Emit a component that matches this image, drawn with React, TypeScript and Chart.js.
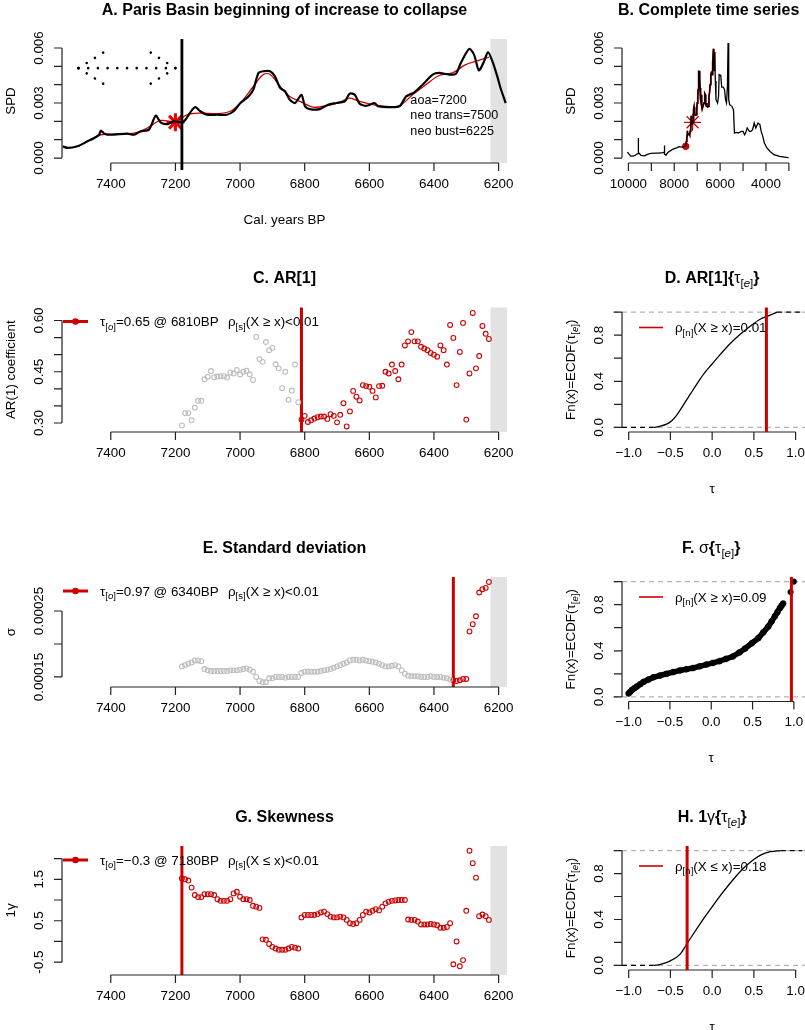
import React, { useEffect, useRef } from "react";
import { Chart, registerables } from "chart.js";
Chart.register(...registerables);

type Seg = { t: string; sub?: boolean; it?: boolean; b?: boolean };

const FONT = '"Liberation Sans", Arial, "DejaVu Sans", sans-serif';
const RED = "#cd0000";
const BRIGHT_RED = "#ee0000";
const GRAY_PT = "#bdbdbd";
const BAND = "#e2e2e2";
const AXIS = "#222222";
const TICK_PX = 13.4;
const TITLE_PX = 16;
const LAB_PX = 13.4;

// ---------------- Panel A: Paris Basin SPD (units of 1e-3) ----------------
const paBlackYears = [7549, 7533, 7503, 7472, 7451, 7436, 7431, 7420, 7400, 7349, 7328, 7308, 7282, 7261, 7246, 7225, 7205, 7179, 7169, 7148, 7138, 7123, 7102, 7071, 7041, 7020, 6999, 6974, 6959, 6943, 6928, 6907, 6892, 6876, 6861, 6846, 6830, 6810, 6799, 6784, 6753, 6728, 6702, 6676, 6661, 6645, 6630, 6609, 6584, 6573, 6548, 6507, 6486, 6461, 6435, 6404, 6384, 6353, 6332, 6317, 6291, 6276, 6261, 6245, 6233, 6219, 6204, 6194, 6178];
const paBlackSpd = [0.64, 0.55, 0.64, 0.91, 1.09, 1.27, 1.49, 1.33, 1.27, 1.33, 1.27, 1.45, 1.55, 2.31, 1.95, 1.85, 2.0, 1.95, 2.09, 2.64, 2.78, 2.55, 2.36, 2.36, 2.36, 2.55, 3.0, 3.36, 3.73, 4.64, 4.73, 4.73, 4.45, 3.82, 3.64, 3.18, 3.0, 3.45, 2.82, 2.67, 2.67, 2.91, 3.0, 3.09, 3.51, 3.45, 2.96, 2.85, 3.0, 2.82, 2.78, 2.82, 3.36, 3.58, 4.0, 4.55, 4.64, 4.55, 4.6, 5.18, 5.95, 5.64, 4.78, 5.27, 5.78, 5.27, 4.45, 3.82, 3.0];
const paRedYears = [7500, 7462, 7431, 7380, 7328, 7287, 7246, 7200, 7164, 7123, 7071, 7030, 6999, 6959, 6928, 6907, 6876, 6846, 6815, 6774, 6733, 6692, 6661, 6630, 6589, 6548, 6507, 6466, 6425, 6384, 6343, 6302, 6261, 6230];
const paRedSpd = [0.64, 1.0, 1.27, 1.31, 1.36, 1.64, 2.05, 1.97, 2.36, 2.45, 2.42, 2.55, 3.0, 3.9, 4.55, 4.55, 3.9, 3.36, 3.09, 2.78, 2.85, 3.04, 3.27, 3.09, 2.91, 2.82, 2.85, 3.45, 4.0, 4.5, 4.64, 5.09, 5.33, 5.5];
const aoaYear = 7200;
const aoaSpd = 1.95;
const neoTrans = 7500;
const neoBust = 6225;
const onsetLineYear = 7180;
const arrowSpd = 4.9;
const annotLines = ["aoa=7200", "neo trans=7500", "neo bust=6225"];
const annotYear = 6473;
const annotSpd = [3.22, 2.35, 1.53];

// ---------------- Panel B: complete series (units of 1e-3) ----------------
const bEarlyYears = [10040, 10000, 9900, 9800, 9700, 9620, 9580, 9570, 9560, 9450, 9300, 9170, 9030, 8800, 8680, 8500, 8440, 8430, 8420, 8360, 8280, 8190, 8050, 7900, 7800, 7640, 7560];
const bEarlySpd = [0.33, 0.25, 0.1, 0.1, 0.15, 0.22, 0.24, 1.09, 0.3, 0.15, 0.12, 0.2, 0.26, 0.27, 0.27, 0.3, 0.32, 0.69, 0.2, 0.16, 0.3, 0.38, 0.49, 0.55, 0.62, 0.6, 0.64];
const bLateYears = [6208, 6180, 6111, 6069, 6041, 5972, 5930, 5861, 5806, 5764, 5722, 5680, 5653, 5625, 5583, 5486, 5417, 5375, 5278, 5208, 5069, 5000, 4930, 4889, 4819, 4722, 4653, 4583, 4514, 4444, 4347, 4264, 4208, 4139, 4069, 3958, 3819, 3653, 3403, 3125, 3014];
const bLateSpd = [4.2, 3.18, 3.0, 3.36, 4.55, 4.5, 3.87, 3.87, 3.73, 3.18, 3.0, 3.9, 6.27, 3.18, 2.91, 2.82, 2.64, 1.36, 1.4, 1.36, 1.45, 1.45, 1.27, 1.36, 1.64, 1.45, 1.45, 1.55, 1.91, 1.64, 1.91, 1.82, 1.45, 1.18, 0.82, 0.55, 0.36, 0.18, 0.09, 0.04, 0.02];

// ---------------- Rolling-window indicators ----------------
const windowYears = [
  7180, 7170, 7160, 7150, 7140, 7130, 7120, 7110, 7100, 7090,
  7080, 7070, 7060, 7050, 7040, 7030, 7020, 7010, 7000, 6990,
  6980, 6970, 6960, 6950, 6940, 6930, 6920, 6910, 6900, 6890,
  6880, 6870, 6860, 6850, 6840, 6830, 6820, 6810, 6800, 6790,
  6780, 6770, 6760, 6750, 6740, 6730, 6720, 6710, 6700, 6690,
  6680, 6670, 6660, 6650, 6640, 6630, 6620, 6610, 6600, 6590,
  6580, 6570, 6560, 6550, 6540, 6530, 6520, 6510, 6500, 6490,
  6480, 6470, 6460, 6450, 6440, 6430, 6420, 6410, 6400, 6390,
  6380, 6370, 6360, 6350, 6340, 6330, 6320, 6310, 6300, 6290,
  6280, 6270, 6260, 6250, 6240, 6230,
];
const arValues = [
  0.293, 0.329, 0.329, 0.308, 0.345, 0.365, 0.365, 0.428, 0.435, 0.452,
  0.434, 0.436, 0.437, 0.437, 0.433, 0.448, 0.445, 0.455, 0.442, 0.45,
  0.453, 0.442, 0.426, 0.552, 0.487, 0.479, 0.537, 0.513, 0.52, 0.472,
  0.46, 0.402, 0.45, 0.368, 0.395, 0.471, 0.361, 0.31, 0.321, 0.303,
  0.308, 0.313, 0.317, 0.319, 0.319, 0.312, 0.326, 0.321, 0.302, 0.324,
  0.358, 0.29, 0.334, 0.394, 0.377, 0.366, 0.411, 0.408, 0.406, 0.394,
  0.375, 0.408, 0.409, 0.45, 0.445, 0.471, 0.452, 0.428, 0.471, 0.527,
  0.539, 0.566, 0.539, 0.539, 0.523, 0.518, 0.513, 0.505, 0.5, 0.494,
  0.527, 0.513, 0.471, 0.587, 0.549, 0.411, 0.508, 0.593, 0.31, 0.445,
  0.622, 0.46, 0.496, 0.584, 0.561, 0.546,
];
// standard deviation in units of 1e-4
const sdValues = [
  1.66, 1.68, 1.7, 1.72, 1.75, 1.75, 1.74, 1.62, 1.6, 1.59,
  1.59, 1.59, 1.59, 1.59, 1.59, 1.6, 1.6, 1.6, 1.61, 1.62,
  1.63, 1.61, 1.58, 1.5, 1.44, 1.42, 1.42, 1.48, 1.48, 1.5,
  1.5, 1.5, 1.49, 1.5, 1.5, 1.5, 1.5, 1.56, 1.58, 1.58,
  1.58, 1.58, 1.58, 1.59, 1.6, 1.61, 1.62, 1.64, 1.66, 1.68,
  1.7, 1.72, 1.75, 1.76, 1.76, 1.75, 1.76, 1.75, 1.74, 1.73,
  1.72, 1.7, 1.68, 1.66, 1.66, 1.67, 1.68, 1.66, 1.6, 1.55,
  1.52, 1.51, 1.51, 1.51, 1.5, 1.5, 1.5, 1.51, 1.5, 1.5,
  1.5, 1.49, 1.48, 1.46, 1.45, 1.44, 1.45, 1.47, 1.47, 2.19,
  2.3, 2.42, 2.78, 2.83, 2.85, 2.94,
];
const skValues = [
  1.52, 1.5, 1.47, 1.3, 1.12, 1.07, 1.07, 1.14, 1.14, 1.14,
  1.12, 1.02, 0.98, 0.98, 0.98, 1.02, 1.16, 1.2, 1.08, 1.02,
  1.02, 1.0, 0.86, 0.84, 0.81, 0.05, 0.04, -0.06, -0.13, -0.17,
  -0.2, -0.2, -0.2, -0.17, -0.13, -0.15, -0.17, 0.58, 0.64, 0.64,
  0.64, 0.64, 0.66, 0.7, 0.72, 0.66, 0.6, 0.58, 0.58, 0.6,
  0.58, 0.52, 0.44, 0.42, 0.44, 0.52, 0.64, 0.72, 0.7, 0.74,
  0.78, 0.75, 0.84, 0.92, 0.96, 0.98, 0.99, 1.0, 1.0, 1.0,
  0.53, 0.52, 0.52, 0.48, 0.41, 0.41, 0.41, 0.42, 0.41, 0.39,
  0.33, 0.33, 0.35, 0.44, -0.55, 0.0, -0.6, -0.45, 0.74, 2.19,
  1.89, 1.54, 0.61, 0.65, 0.61, 0.52,
];
const arOnset = 6810;
const sdOnset = 6340;
const skOnset = 7180;

// ---------------- ECDF panels ----------------
const arTauObs = 0.65;
const sdTauObs = 0.97;
const skTauObs = -0.3;
const dTau = [-0.7, -0.62, -0.54, -0.48, -0.42, -0.34, -0.26, -0.18, -0.1, 0.0, 0.1, 0.22, 0.34, 0.46, 0.58, 0.68, 0.78];
const dFn = [0.0, 0.01, 0.03, 0.06, 0.11, 0.2, 0.29, 0.38, 0.465, 0.55, 0.635, 0.73, 0.81, 0.88, 0.94, 0.97, 1.0];
const fTau = [-1.0, -0.98, -0.96, -0.93, -0.9, -0.86, -0.82, -0.76, -0.7, -0.62, -0.54, -0.46, -0.38, -0.3, -0.22, -0.14, -0.06, 0.02, 0.1, 0.18, 0.26, 0.34, 0.41, 0.49, 0.57, 0.63, 0.69, 0.73, 0.77, 0.8, 0.83, 0.85, 0.87];
const fFn = [0.03, 0.045, 0.06, 0.075, 0.09, 0.11, 0.13, 0.15, 0.17, 0.185, 0.2, 0.215, 0.23, 0.24, 0.25, 0.265, 0.28, 0.295, 0.31, 0.33, 0.35, 0.385, 0.42, 0.465, 0.51, 0.56, 0.61, 0.655, 0.7, 0.735, 0.77, 0.79, 0.81];
const fTopTau = [0.96, 1.0];
const fTopFn = [0.91, 1.0];
const hTau = [-0.7, -0.62, -0.5, -0.38, -0.31, -0.22, -0.1, 0.0, 0.1, 0.22, 0.34, 0.46, 0.58, 0.7, 0.82];
const hFn = [0.0, 0.01, 0.04, 0.1, 0.18, 0.28, 0.41, 0.51, 0.61, 0.72, 0.82, 0.9, 0.96, 0.99, 1.0];

// ---------------- tick labels ----------------
const yearTicks = [7400, 7200, 7000, 6800, 6600, 6400, 6200];
const yearTickLabels = ["7400", "7200", "7000", "6800", "6600", "6400", "6200"];
const bYearTicks = [10000, 9000, 8000, 7000, 6000, 5000, 4000, 3000];
const bYearTickLabels = ["10000", "", "8000", "", "6000", "", "4000", ""];
const spdTicks = [0, 1, 2, 3, 4, 5, 6];
const spdTickLabels = ["0.000", "", "", "0.003", "", "", "0.006"];
const arTicks = [0.3, 0.35, 0.4, 0.45, 0.5, 0.55, 0.6];
const arTickLabels = ["0.30", "", "", "0.45", "", "", "0.60"];
const sdTicks = [1.5, 2.0, 2.5];
const sdTickLabels = ["0.00015", "", "0.00025"];
const skTicks = [-0.5, 0, 0.5, 1.0, 1.5, 2.0];
const skTickLabels = ["-0.5", "", "0.5", "", "1.5", ""];
const tauTicks = [-1, -0.5, 0, 0.5, 1];
const tauTickLabels = ["\u22121.0", "\u22120.5", "0.0", "0.5", "1.0"];
const fnTicks = [0, 0.2, 0.4, 0.6, 0.8, 1.0];
const fnTickLabels = ["0.0", "", "0.4", "", "0.8", ""];

// ---------------- text helpers ----------------
function fontOf(s: Seg, size: number) {
  const sz = s.sub ? size * 0.72 : size;
  return `${s.it ? "italic " : ""}${s.b ? "bold " : ""}${sz}px ${FONT}`;
}
function richWidth(ctx: CanvasRenderingContext2D, segs: Seg[], size: number) {
  let w = 0;
  for (const s of segs) {
    ctx.font = fontOf(s, size);
    w += ctx.measureText(s.t).width;
  }
  return w;
}
function drawRich(ctx: CanvasRenderingContext2D, segs: Seg[], x: number, y: number, size: number, align = "left") {
  ctx.textBaseline = "alphabetic";
  ctx.textAlign = "left";
  let cx = align === "center" ? x - richWidth(ctx, segs, size) / 2 : x;
  const base = y + size * 0.36;
  for (const s of segs) {
    ctx.font = fontOf(s, size);
    ctx.fillText(s.t, cx, s.sub ? base + size * 0.25 : base);
    cx += ctx.measureText(s.t).width;
  }
}
function drawRichRot(ctx: CanvasRenderingContext2D, segs: Seg[], x: number, y: number, size: number) {
  ctx.save();
  ctx.translate(x, y);
  ctx.rotate(-Math.PI / 2);
  drawRich(ctx, segs, 0, 0, size, "center");
  ctx.restore();
}
const plain = (t: string): Seg[] => [{ t }];
const bold = (t: string): Seg[] => [{ t, b: true }];
const tauE: Seg[] = [{ t: "\u03c4" }, { t: "[", sub: true }, { t: "e", sub: true, it: true }, { t: "]", sub: true }];

// ---------------- panel machinery ----------------
type Area = { l: number; t: number; r: number; b: number };
type PanelSpec = {
  key: string;
  left: number; top: number; w: number; h: number;
  area: Area;
  xr: [number, number]; xRev: boolean; yr: [number, number];
  xTicks: number[]; xLabels: string[]; yTicks: number[]; yLabels: string[];
  title: Seg[]; xlab?: Seg[]; ylab?: Seg[];
  datasets: any[];
  under?: (c: any) => void;
  over?: (c: any) => void;
};

function drawFrame(c: any, s: PanelSpec) {
  const { ctx, chartArea: a } = c;
  const sx = c.scales.x, sy = c.scales.y;
  ctx.save();
  ctx.setLineDash([]);
  ctx.strokeStyle = AXIS;
  ctx.lineWidth = 1.2;
  ctx.fillStyle = "#000";
  const xp = s.xTicks.map((v) => sx.getPixelForValue(v));
  const yb = a.bottom;
  ctx.beginPath();
  ctx.moveTo(Math.min(...xp), yb);
  ctx.lineTo(Math.max(...xp), yb);
  xp.forEach((p) => { ctx.moveTo(p, yb); ctx.lineTo(p, yb + 8); });
  ctx.stroke();
  xp.forEach((p, i) => { if (s.xLabels[i]) drawRich(ctx, plain(s.xLabels[i]), p, yb + 20, TICK_PX, "center"); });
  const yp = s.yTicks.map((v) => sy.getPixelForValue(v));
  const xl = a.left;
  ctx.beginPath();
  ctx.moveTo(xl, Math.min(...yp));
  ctx.lineTo(xl, Math.max(...yp));
  yp.forEach((p) => { ctx.moveTo(xl, p); ctx.lineTo(xl - 8, p); });
  ctx.stroke();
  yp.forEach((p, i) => { if (s.yLabels[i]) drawRichRot(ctx, plain(s.yLabels[i]), xl - 24, p, TICK_PX); });
  drawRich(ctx, s.title, (a.left + a.right) / 2, a.top - 30, TITLE_PX, "center");
  if (s.xlab) drawRich(ctx, s.xlab, (a.left + a.right) / 2, a.bottom + 56, LAB_PX, "center");
  if (s.ylab) drawRichRot(ctx, s.ylab, a.left - 52, (a.top + a.bottom) / 2, LAB_PX);
  ctx.restore();
}

function PanelCanvas({ spec }: { spec: PanelSpec }) {
  const ref = useRef<HTMLCanvasElement>(null);
  useEffect(() => {
    const s = spec;
    const chart = new Chart(ref.current as HTMLCanvasElement, {
      type: "scatter",
      data: { datasets: s.datasets },
      options: {
        animation: false,
        responsive: false,
        devicePixelRatio: 1,
        events: [],
        layout: { padding: { left: s.area.l, top: s.area.t, right: s.w - s.area.r, bottom: s.h - s.area.b } },
        scales: {
          x: { type: "linear", display: false, min: s.xr[0], max: s.xr[1], reverse: s.xRev },
          y: { type: "linear", display: false, min: s.yr[0], max: s.yr[1] },
        },
        plugins: { legend: { display: false }, tooltip: { enabled: false }, title: { display: false } },
      } as any,
      plugins: [
        {
          id: "rbase",
          beforeDatasetsDraw: (c: any) => { c.ctx.save(); s.under && s.under(c); c.ctx.restore(); },
          afterDatasetsDraw: (c: any) => { drawFrame(c, s); c.ctx.save(); s.over && s.over(c); c.ctx.restore(); },
        },
      ],
    });
    return () => chart.destroy();
  }, [spec]);
  return (
    <canvas
      ref={ref}
      width={spec.w}
      height={spec.h}
      style={{ position: "absolute", left: spec.left, top: spec.top, width: spec.w, height: spec.h }}
    />
  );
}

// ---------------- drawing helpers ----------------
const pts = (xs: number[], ys: number[]) => xs.map((x, i) => ({ x, y: ys[i] }));
function band(c: any, from: number) {
  const { ctx, chartArea: a } = c;
  const x0 = c.scales.x.getPixelForValue(from);
  ctx.fillStyle = BAND;
  ctx.fillRect(x0, a.top, a.right - x0, a.bottom - a.top);
}
function vline(c: any, xv: number, color: string, width: number, extra = 0) {
  const { ctx, chartArea: a } = c;
  const x = c.scales.x.getPixelForValue(xv);
  ctx.strokeStyle = color;
  ctx.lineWidth = width;
  ctx.setLineDash([]);
  ctx.beginPath();
  ctx.moveTo(x, a.top);
  ctx.lineTo(x, a.bottom + extra);
  ctx.stroke();
}
function hDashed(c: any, yv: number) {
  const { ctx, chartArea: a } = c;
  const y = c.scales.y.getPixelForValue(yv);
  ctx.strokeStyle = "#b3b3b3";
  ctx.lineWidth = 1.2;
  ctx.setLineDash([5, 4]);
  ctx.beginPath();
  ctx.moveTo(a.left - 9, y);
  ctx.lineTo(c.width, y);
  ctx.stroke();
  ctx.setLineDash([]);
}
function pointLegend(c: any, s1: Seg[], s2: Seg[]) {
  const { ctx, chartArea: a } = c;
  const y = a.top + 14;
  ctx.strokeStyle = RED;
  ctx.lineWidth = 3;
  ctx.beginPath();
  ctx.moveTo(63, y);
  ctx.lineTo(88, y);
  ctx.stroke();
  ctx.fillStyle = RED;
  ctx.beginPath();
  ctx.arc(75.5, y, 3.3, 0, Math.PI * 2);
  ctx.fill();
  ctx.fillStyle = "#000";
  drawRich(ctx, s1, 100, y, LAB_PX);
  drawRich(ctx, s2, 228, y, LAB_PX);
}
function lineLegend(c: any, segs: Seg[]) {
  const { ctx, chartArea: a } = c;
  const y = a.top + 20;
  ctx.strokeStyle = RED;
  ctx.lineWidth = 1.6;
  ctx.beginPath();
  ctx.moveTo(a.left + 17, y);
  ctx.lineTo(a.left + 41, y);
  ctx.stroke();
  ctx.fillStyle = "#000";
  drawRich(ctx, segs, a.left + 53, y, LAB_PX);
}
function dottedArrow(c: any, x1v: number, x2v: number, yv: number) {
  const { ctx } = c;
  const xa = c.scales.x.getPixelForValue(x1v);
  const xb = c.scales.x.getPixelForValue(x2v);
  const y = c.scales.y.getPixelForValue(yv);
  const l = Math.min(xa, xb), r = Math.max(xa, xb);
  const hx = 25.5, hy = 16;
  ctx.strokeStyle = "#000";
  ctx.lineWidth = 2.6;
  ctx.lineCap = "round";
  ctx.setLineDash([0.01, 9.7]);
  const seg = (x0: number, y0: number, x1: number, y1: number) => {
    ctx.beginPath();
    ctx.moveTo(x0, y0);
    ctx.lineTo(x1, y1);
    ctx.stroke();
  };
  seg(l, y, r, y);
  seg(l, y, l + hx, y - hy);
  seg(l, y, l + hx, y + hy);
  seg(r, y, r - hx, y - hy);
  seg(r, y, r - hx, y + hy);
  ctx.setLineDash([]);
}
const lineDs = (data: any[], color: string, width: number, smooth = false, dash: number[] = []) => ({
  data, showLine: true, borderColor: color, borderWidth: width, pointRadius: 0,
  tension: smooth ? 0.4 : 0, cubicInterpolationMode: smooth ? "monotone" : "default",
  borderDash: dash, fill: false,
});
const curveDs = (data: any[], color: string, width: number, tension: number) => ({
  data, showLine: true, borderColor: color, borderWidth: width, pointRadius: 0, tension, fill: false,
});
const openPts = (data: any[], color: string) => ({
  data, showLine: false, pointStyle: "circle", pointRadius: 2.4, pointBorderWidth: 1.1,
  pointBorderColor: color, pointBackgroundColor: "rgba(0,0,0,0)", borderColor: color, backgroundColor: "rgba(0,0,0,0)",
});

const YEAR_X: [number, number] = [6174, 7551];
const TAU_X: [number, number] = [-1.08, 1.08];
const FN_Y: [number, number] = [-0.04, 1.04];

function splitWindow(values: number[], onset: number) {
  const before: any[] = [];
  const after: any[] = [];
  windowYears.forEach((yr, i) => {
    if (yr > onset) before.push({ x: yr, y: values[i] });
    else after.push({ x: yr, y: values[i] });
  });
  return { before, after };
}

const sigSub = (ch: string): Seg[] => [{ t: "\u03c4" }, { t: "[", sub: true }, { t: ch, sub: true, it: true }, { t: "]", sub: true }];
const rhoSub = (ch: string): Seg[] => [{ t: "\u03c1" }, { t: `[${ch}]`, sub: true }];
const ecdfYlab: Seg[] = [{ t: "Fn(x)=ECDF(" }, ...tauE, { t: ")" }];

function buildSpecs(): PanelSpec[] {
  const ar = splitWindow(arValues, arOnset);
  const sd = splitWindow(sdValues, sdOnset);
  const sk = splitWindow(skValues, skOnset);
  const bMid = paBlackYears.map((y, i) => ({ x: y, y: paBlackSpd[i] })).filter((p) => p.x <= 7510 && p.x >= neoBust);
  const bAll = [...pts(bEarlyYears, bEarlySpd), ...bMid, ...pts(bLateYears, bLateSpd)];
  const bRed = paBlackYears.map((y, i) => ({ x: y, y: paBlackSpd[i] })).filter((p) => p.x <= 7505 && p.x >= neoBust);

  const A: PanelSpec = {
    key: "A", left: 0, top: 0, w: 560, h: 268,
    area: { l: 62, t: 39, r: 507, b: 163 },
    xr: YEAR_X, xRev: true, yr: [-0.27, 6.49],
    xTicks: yearTicks, xLabels: yearTickLabels, yTicks: spdTicks, yLabels: spdTickLabels,
    title: bold("A. Paris Basin beginning of increase to collapse"),
    xlab: plain("Cal. years BP"), ylab: plain("SPD"),
    datasets: [
      curveDs(pts(paBlackYears, paBlackSpd), "#000", 2.2, 0.25),
      curveDs(pts(paRedYears, paRedSpd), RED, 1.3, 0.35),
      { data: [{ x: aoaYear, y: aoaSpd }], pointStyle: "star", pointRadius: 9, pointBorderWidth: 3, pointBorderColor: BRIGHT_RED, borderColor: BRIGHT_RED, showLine: false },
    ],
    under: (c) => band(c, neoBust),
    over: (c) => {
      vline(c, onsetLineYear, "#000", 2.8, 7);
      dottedArrow(c, neoTrans, aoaYear, arrowSpd);
      const { ctx } = c;
      ctx.fillStyle = "#000";
      annotLines.forEach((t, i) => drawRich(ctx, plain(t), c.scales.x.getPixelForValue(annotYear), c.scales.y.getPixelForValue(annotSpd[i]), 12.6));
    },
  };
  const B: PanelSpec = {
    key: "B", left: 560, top: 0, w: 245, h: 268,
    area: { l: 62, t: 39, r: 243, b: 163 },
    xr: [2720, 10280], xRev: true, yr: [-0.27, 6.49],
    xTicks: bYearTicks, xLabels: bYearTickLabels, yTicks: spdTicks, yLabels: spdTickLabels,
    title: bold("B. Complete time series"), ylab: plain("SPD"),
    datasets: [
      lineDs(bAll, "#000", 1.3),
      lineDs(bRed, RED, 1.8),
      { data: [{ x: neoTrans, y: paRedSpd[0] }], pointStyle: "circle", pointRadius: 3.3, pointBackgroundColor: RED, pointBorderColor: RED, showLine: false },
      { data: [{ x: aoaYear, y: aoaSpd }], pointStyle: "star", pointRadius: 8.5, pointBorderWidth: 1.2, pointBorderColor: RED, borderColor: RED, showLine: false },
    ],
  };
  const C: PanelSpec = {
    key: "C", left: 0, top: 268, w: 560, h: 270,
    area: { l: 62, t: 39.5, r: 507, b: 164 },
    xr: YEAR_X, xRev: true, yr: [0.2737, 0.638],
    xTicks: yearTicks, xLabels: yearTickLabels, yTicks: arTicks, yLabels: arTickLabels,
    title: bold("C. AR[1]"), ylab: plain("AR(1) coefficient"),
    datasets: [openPts(ar.before, GRAY_PT), openPts(ar.after, RED)],
    under: (c) => { band(c, neoBust); vline(c, arOnset, RED, 3); },
    over: (c) => pointLegend(c, [...sigSub("o"), { t: "=0.65 @ 6810BP" }], [...rhoSub("s"), { t: "(X \u2265 x)<0.01" }]),
  };
  const D: PanelSpec = {
    key: "D", left: 560, top: 268, w: 245, h: 270,
    area: { l: 62, t: 39.5, r: 242.3, b: 164 },
    xr: TAU_X, xRev: false, yr: FN_Y,
    xTicks: tauTicks, xLabels: tauTickLabels, yTicks: fnTicks, yLabels: fnTickLabels,
    title: [{ t: "D. AR[1]{", b: true }, ...tauE, { t: "}", b: true }],
    xlab: plain("\u03c4"), ylab: ecdfYlab,
    datasets: [
      lineDs([{ x: -1.08, y: 0 }, { x: dTau[0], y: 0 }], "#000", 1.3, false, [5, 4]),
      lineDs([{ x: dTau[dTau.length - 1], y: 1 }, { x: 1.08, y: 1 }], "#000", 1.3, false, [5, 4]),
      lineDs(pts(dTau, dFn), "#000", 1.3, true),
    ],
    under: (c) => { hDashed(c, 0); hDashed(c, 1); },
    over: (c) => { vline(c, arTauObs, RED, 3); lineLegend(c, [...rhoSub("n"), { t: "(X \u2265 x)=0.01" }]); },
  };
  const E: PanelSpec = {
    key: "E", left: 0, top: 538, w: 560, h: 268,
    area: { l: 62, t: 39, r: 507, b: 149 },
    xr: YEAR_X, xRev: true, yr: [1.348, 3.015],
    xTicks: yearTicks, xLabels: yearTickLabels, yTicks: sdTicks, yLabels: sdTickLabels,
    title: bold("E. Standard deviation"), ylab: plain("\u03c3"),
    datasets: [openPts(sd.before, GRAY_PT), openPts(sd.after, RED)],
    under: (c) => { band(c, neoBust); vline(c, sdOnset, RED, 3); },
    over: (c) => pointLegend(c, [...sigSub("o"), { t: "=0.97 @ 6340BP" }], [...rhoSub("s"), { t: "(X \u2265 x)<0.01" }]),
  };
  const F: PanelSpec = {
    key: "F", left: 560, top: 538, w: 245, h: 268,
    area: { l: 62, t: 39, r: 242.3, b: 163.5 },
    xr: TAU_X, xRev: false, yr: FN_Y,
    xTicks: tauTicks, xLabels: tauTickLabels, yTicks: fnTicks, yLabels: fnTickLabels,
    title: [{ t: "F. ", b: true }, { t: "\u03c3" }, { t: "{", b: true }, ...tauE, { t: "}", b: true }],
    xlab: plain("\u03c4"), ylab: ecdfYlab,
    datasets: [
      {
        data: pts(fTau, fFn), showLine: true, borderColor: "#000", borderWidth: 5.6, tension: 0,
        pointRadius: 3, pointBorderWidth: 0.5, pointBackgroundColor: "#000", pointBorderColor: "#000", fill: false,
      },
      {
        data: pts(fTopTau, fTopFn), showLine: false, pointRadius: 2.8, pointBorderWidth: 0.5,
        pointBackgroundColor: "#000", pointBorderColor: "#000",
      },
    ],
    under: (c) => { hDashed(c, 0); hDashed(c, 1); },
    over: (c) => { vline(c, sdTauObs, RED, 3); lineLegend(c, [...rhoSub("n"), { t: "(X \u2265 x)=0.09" }]); },
  };
  const G: PanelSpec = {
    key: "G", left: 0, top: 806, w: 560, h: 224,
    area: { l: 62, t: 40, r: 507, b: 169 },
    xr: YEAR_X, xRev: true, yr: [-0.81, 2.304],
    xTicks: yearTicks, xLabels: yearTickLabels, yTicks: skTicks, yLabels: skTickLabels,
    title: bold("G. Skewness"), ylab: [{ t: "1" }, { t: "\u03b3" }],
    datasets: [openPts(sk.before, GRAY_PT), openPts(sk.after, RED)],
    under: (c) => { band(c, neoBust); vline(c, skOnset, RED, 3); },
    over: (c) => pointLegend(c, [...sigSub("o"), { t: "=\u22120.3 @ 7180BP" }], [...rhoSub("s"), { t: "(X \u2264 x)<0.01" }]),
  };
  const H: PanelSpec = {
    key: "H", left: 560, top: 806, w: 245, h: 224,
    area: { l: 62, t: 40, r: 242.3, b: 164 },
    xr: TAU_X, xRev: false, yr: FN_Y,
    xTicks: tauTicks, xLabels: tauTickLabels, yTicks: fnTicks, yLabels: fnTickLabels,
    title: [{ t: "H. 1", b: true }, { t: "\u03b3" }, { t: "{", b: true }, ...tauE, { t: "}", b: true }],
    xlab: plain("\u03c4"), ylab: ecdfYlab,
    datasets: [
      lineDs([{ x: -1.08, y: 0 }, { x: hTau[0], y: 0 }], "#000", 1.3, false, [5, 4]),
      lineDs([{ x: hTau[hTau.length - 1], y: 1 }, { x: 1.08, y: 1 }], "#000", 1.3, false, [5, 4]),
      lineDs(pts(hTau, hFn), "#000", 1.3, true),
    ],
    under: (c) => { hDashed(c, 0); hDashed(c, 1); },
    over: (c) => { vline(c, skTauObs, RED, 3); lineLegend(c, [...rhoSub("n"), { t: "(X \u2264 x)=0.18" }]); },
  };
  return [A, B, C, D, E, F, G, H];
}

const SPECS = buildSpecs();

export default function App() {
  return (
    <div style={{ position: "absolute", left: 0, top: 0, width: 805, height: 1030, background: "#fff", overflow: "hidden" }}>
      {SPECS.map((s) => (
        <PanelCanvas key={s.key} spec={s} />
      ))}
    </div>
  );
}
